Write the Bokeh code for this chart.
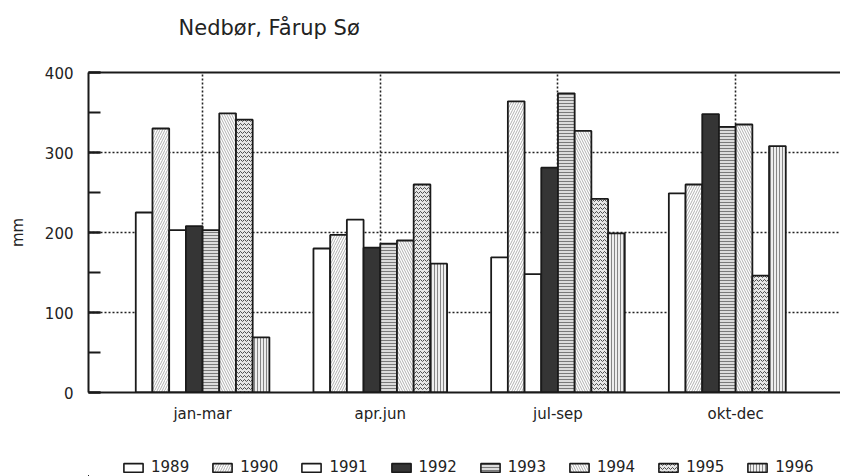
from bokeh.plotting import figure
from bokeh.layouts import column
from bokeh.models import (ColumnDataSource, Range1d, FixedTicker, SingleIntervalTicker,
                          LinearAxis, Legend, LegendItem, Label)
from bokeh.embed import file_html
from bokeh.resources import INLINE

# ---------------- data ----------------
title_text = "Nedbør, Fårup Sø"
y_label = "mm"
quarters = ["jan-mar", "apr.jun", "jul-sep", "okt-dec"]
years = ["1989", "1990", "1991", "1992", "1993", "1994", "1995", "1996"]
v1989 = [225, 180, 169, 249]
v1990 = [330, 197, 364, 260]
v1991 = [203, 216, 148, None]
v1992 = [208, 181, 281, 348]
v1993 = [203, 186, 374, 332]
v1994 = [349, 190, 327, 335]
v1995 = [341, 260, 242, 146]
v1996 = [69, 161, 199, 308]
series = [v1989, v1990, v1991, v1992, v1993, v1994, v1995, v1996]
y_ticks_interval = 100

# ---------------- styles ----------------
FONT = "DejaVu Sans"
TXT = "#222222"
EDGE = "#1a1a1a"
BAR_W = 0.094
styles = [
    dict(fill_color="white"),
    dict(fill_color="white", hatch_pattern="/", hatch_color="#9a9a9a", hatch_scale=5, hatch_weight=0.8),
    dict(fill_color="white"),
    dict(fill_color="#353535"),
    dict(fill_color="#dcdcdc", hatch_pattern="-", hatch_color="#6f6f6f", hatch_scale=3, hatch_weight=0.9),
    dict(fill_color="white", hatch_pattern="\\", hatch_color="#9a9a9a", hatch_scale=5, hatch_weight=0.8),
    dict(fill_color="#e6e6e6", hatch_pattern="v", hatch_color="#3c3c3c", hatch_scale=4, hatch_weight=0.9),
    dict(fill_color="#eeeeee", hatch_pattern="|", hatch_color="#7a7a7a", hatch_scale=3, hatch_weight=0.9),
]

# bars of a quarter are laid side by side; a missing value leaves no gap
xs = [[] for _ in years]
tops = [[] for _ in years]
for qi in range(len(quarters)):
    slot = 0
    for yi, vals in enumerate(series):
        v = vals[qi]
        if v is None:
            continue
        xs[yi].append(qi + (slot - (len(years) - 1) / 2) * BAR_W)
        tops[yi].append(v)
        slot += 1
sources = [ColumnDataSource(dict(x=xs[i], top=tops[i])) for i in range(len(years))]

# ---------------- title strip ----------------
tt = figure(width=840, height=50, x_range=Range1d(0, 1), y_range=Range1d(0, 1),
            output_backend="svg", toolbar_location=None,
            x_axis_location=None, y_axis_location=None,
            min_border_left=0, min_border_right=0, min_border_top=0, min_border_bottom=0)
tt.outline_line_color = None
tt.xgrid.visible = False
tt.ygrid.visible = False
tt.add_layout(Label(x=90, y=23, x_units="screen", y_units="screen", text=title_text,
                    text_font=FONT, text_font_size="21px", text_color=TXT,
                    text_align="left", text_baseline="middle"))

# ---------------- main chart ----------------
p = figure(width=840, height=380,
           x_range=Range1d(-0.642, 3.590), y_range=Range1d(0, 400),
           output_backend="svg", toolbar_location=None,
           min_border_left=88, min_border_right=0, min_border_top=22, min_border_bottom=38)
p.outline_line_color = None
p.background_fill_color = "white"
p.border_fill_color = "white"

# x axis
xa = p.xaxis[0]
xa.ticker = FixedTicker(ticks=list(range(len(quarters))))
xa.major_label_overrides = {i: q for i, q in enumerate(quarters)}
xa.major_tick_in = 0
xa.major_tick_out = 0
xa.minor_tick_in = 0
xa.minor_tick_out = 0
xa.axis_line_width = 2
xa.axis_line_color = EDGE
xa.major_label_text_font = FONT
xa.major_label_text_font_size = "15px"
xa.major_label_text_color = TXT
xa.major_label_standoff = 12

# y axis
ya = p.yaxis[0]
ya.ticker = SingleIntervalTicker(interval=y_ticks_interval, num_minor_ticks=2)
ya.major_tick_in = 12
ya.major_tick_out = 0
ya.minor_tick_in = 12
ya.minor_tick_out = 0
ya.major_tick_line_width = 2
ya.minor_tick_line_width = 2
ya.major_tick_line_color = EDGE
ya.minor_tick_line_color = EDGE
ya.axis_line_width = 2
ya.axis_line_color = EDGE
ya.major_label_text_font = FONT
ya.major_label_text_font_size = "15px"
ya.major_label_text_color = TXT
ya.major_label_standoff = 15
ya.axis_label = y_label
ya.axis_label_text_font = FONT
ya.axis_label_text_font_size = "15px"
ya.axis_label_text_font_style = "normal"
ya.axis_label_text_color = TXT
ya.axis_label_standoff = 15

# top frame line
top = LinearAxis(ticker=FixedTicker(ticks=[]), axis_line_width=2, axis_line_color=EDGE,
                 major_tick_in=0, major_tick_out=0, minor_tick_in=0, minor_tick_out=0,
                 major_label_text_font_size="0px", major_label_standoff=0)
p.add_layout(top, "above")

# grids
p.xgrid.ticker = FixedTicker(ticks=list(range(len(quarters))))
for g in (p.xgrid[0], p.ygrid[0]):
    g.grid_line_color = "#222222"
    g.grid_line_dash = "2 2"
    g.grid_line_width = 1.6

# bars
for yi, yr in enumerate(years):
    p.vbar(x="x", top="top", bottom=0, width=BAR_W, source=sources[yi],
           line_color=EDGE, line_width=1.8, **styles[yi])

# ---------------- legend strip ----------------
# same bar renderers, viewed far away from the data so only the legend swatches show
lg = figure(width=840, height=46, x_range=Range1d(100, 101), y_range=Range1d(1000, 1001),
            output_backend="svg", toolbar_location=None,
            x_axis_location=None, y_axis_location=None,
            min_border_left=0, min_border_right=0, min_border_top=0, min_border_bottom=0)
lg.outline_line_color = None
lg.xgrid.visible = False
lg.ygrid.visible = False
items = []
for yi, yr in enumerate(years):
    swatch = lg.vbar(x="x", top="top", bottom=0, width=BAR_W, source=sources[yi],
                     line_color=EDGE, line_width=1.6, **styles[yi])
    items.append(LegendItem(label=yr, renderers=[swatch]))
legend = Legend(items=items, orientation="horizontal", location=(33, 0),
                spacing=21, glyph_width=24, glyph_height=11, label_standoff=6,
                padding=0, margin=0, border_line_color=None, background_fill_alpha=0,
                label_text_font=FONT, label_text_font_size="15px", label_text_color=TXT)
lg.add_layout(legend)

page = column(tt, p, lg, spacing=0)
open("out.html", "w").write(file_html(page, INLINE))
